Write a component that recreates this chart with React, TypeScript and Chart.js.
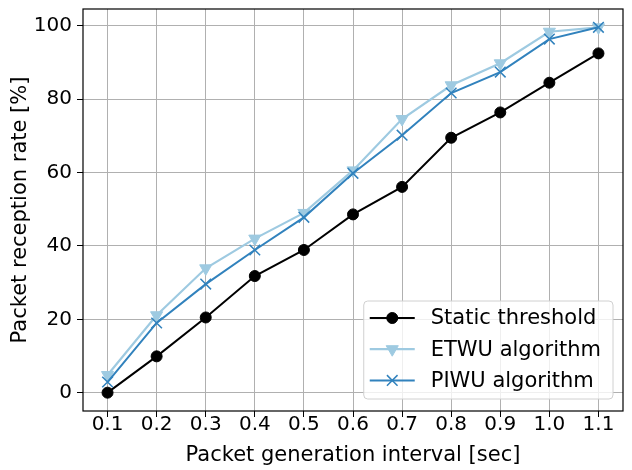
import React, { useEffect, useRef } from 'react';
import { Chart, registerables } from 'chart.js';

Chart.register(...registerables);

const intervals = [0.1, 0.2, 0.3, 0.4, 0.5, 0.6, 0.7, 0.8, 0.9, 1.0, 1.1];
const staticThreshold = [0, 9.9, 20.5, 31.8, 38.9, 48.6, 56.1, 69.5, 76.4, 84.5, 92.5];
const etwuAlgorithm = [4.8, 21.1, 33.9, 42.0, 49.0, 60.6, 74.6, 83.8, 89.8, 98.4, 99.6];
const piwuAlgorithm = [2.9, 19.0, 29.6, 38.9, 47.8, 59.8, 70.2, 81.7, 87.4, 96.4, 99.6];
const xTickValues = [0.1, 0.2, 0.3, 0.4, 0.5, 0.6, 0.7, 0.8, 0.9, 1.0, 1.1];
const yTickValues = [0, 20, 40, 60, 80, 100];
const seriesLabels = ['Static threshold', 'ETWU algorithm', 'PIWU algorithm'];
const xTitle = 'Packet generation interval [sec]';
const yTitle = 'Packet reception rate [%]';

const FONT = '"DejaVu Sans", sans-serif';

function toPoints(values: number[]) {
  return intervals.map((x, i) => ({ x, y: values[i] }));
}

function drawMarker(ctx: CanvasRenderingContext2D, ds: any, x: number, y: number) {
  const style = ds.pointStyle;
  const r = ds.pointRadius;
  ctx.save();
  ctx.fillStyle = ds.pointBackgroundColor;
  ctx.strokeStyle = ds.pointBorderColor;
  ctx.lineWidth = ds.pointBorderWidth;
  ctx.beginPath();
  if (style === 'circle') {
    ctx.arc(x, y, r, 0, Math.PI * 2);
    ctx.fill();
    ctx.stroke();
  } else if (style === 'triangle') {
    const rot = ((ds.pointRotation || 0) * Math.PI) / 180;
    let a = rot;
    ctx.moveTo(x + Math.sin(a) * r, y - Math.cos(a) * r);
    a += (2 * Math.PI) / 3;
    ctx.lineTo(x + Math.sin(a) * r, y - Math.cos(a) * r);
    a += (2 * Math.PI) / 3;
    ctx.lineTo(x + Math.sin(a) * r, y - Math.cos(a) * r);
    ctx.closePath();
    ctx.fill();
    ctx.stroke();
  } else if (style === 'crossRot') {
    const d = r * Math.SQRT1_2;
    ctx.moveTo(x - d, y - d);
    ctx.lineTo(x + d, y + d);
    ctx.moveTo(x - d, y + d);
    ctx.lineTo(x + d, y - d);
    ctx.stroke();
  }
  ctx.restore();
}

const framePlugin = {
  id: 'frame',
  afterDatasetsDraw(chart: any) {
    const { ctx, chartArea } = chart;
    ctx.save();
    ctx.strokeStyle = '#000';
    ctx.lineWidth = 1.2;
    ctx.strokeRect(chartArea.left, chartArea.top, chartArea.right - chartArea.left, chartArea.bottom - chartArea.top);
    ctx.restore();
  },
};

const legendPlugin = {
  id: 'boxLegend',
  afterDraw(chart: any) {
    const { ctx, chartArea } = chart;
    const datasets = chart.data.datasets;
    ctx.save();
    ctx.font = `21px ${FONT}`;
    const maxW = Math.max(...datasets.map((d: any) => ctx.measureText(d.label).width));
    const w = 67 + maxW + 12;
    const h = 98;
    const right = chartArea.right - 10;
    const bottom = chartArea.bottom - 12;
    const left = right - w;
    const top = bottom - h;
    ctx.beginPath();
    const rr = 4;
    ctx.moveTo(left + rr, top);
    ctx.lineTo(right - rr, top);
    ctx.arcTo(right, top, right, top + rr, rr);
    ctx.lineTo(right, bottom - rr);
    ctx.arcTo(right, bottom, right - rr, bottom, rr);
    ctx.lineTo(left + rr, bottom);
    ctx.arcTo(left, bottom, left, bottom - rr, rr);
    ctx.lineTo(left, top + rr);
    ctx.arcTo(left, top, left + rr, top, rr);
    ctx.closePath();
    ctx.fillStyle = 'rgba(255,255,255,0.8)';
    ctx.fill();
    ctx.strokeStyle = '#d0d0d0';
    ctx.lineWidth = 1;
    ctx.stroke();
    datasets.forEach((ds: any, i: number) => {
      const cy = top + 17 + i * 31.2;
      ctx.save();
      ctx.strokeStyle = ds.borderColor;
      ctx.lineWidth = ds.borderWidth;
      ctx.beginPath();
      ctx.moveTo(left + 6, cy);
      ctx.lineTo(left + 51, cy);
      ctx.stroke();
      ctx.restore();
      drawMarker(ctx, ds, left + 28.5, cy);
      ctx.fillStyle = '#000';
      ctx.textBaseline = 'middle';
      ctx.textAlign = 'left';
      ctx.fillText(ds.label, left + 67, cy + 1);
    });
    ctx.restore();
  },
};

export default function App() {
  const canvasRef = useRef<HTMLCanvasElement | null>(null);

  useEffect(() => {
    const canvas = canvasRef.current;
    if (!canvas) return;
    const tickFont = { family: FONT, size: 20 };
    const titleFont = { family: FONT, size: 21 };
    const chart = new Chart(canvas, {
      type: 'line',
      data: {
        datasets: [
          {
            label: seriesLabels[0],
            data: toPoints(staticThreshold),
            borderColor: '#000000',
            backgroundColor: '#000000',
            borderWidth: 2,
            pointStyle: 'circle',
            pointRadius: 5.5,
            pointBackgroundColor: '#000000',
            pointBorderColor: '#000000',
            pointBorderWidth: 1,
            order: 3,
          },
          {
            label: seriesLabels[1],
            data: toPoints(etwuAlgorithm),
            borderColor: '#9ecae1',
            backgroundColor: '#9ecae1',
            borderWidth: 2.2,
            pointStyle: 'triangle',
            pointRotation: 180,
            pointRadius: 7,
            pointBackgroundColor: '#9ecae1',
            pointBorderColor: '#9ecae1',
            pointBorderWidth: 1,
            order: 2,
          },
          {
            label: seriesLabels[2],
            data: toPoints(piwuAlgorithm),
            borderColor: '#3182bd',
            backgroundColor: '#3182bd',
            borderWidth: 2,
            pointStyle: 'crossRot',
            pointRadius: 7.5,
            pointBackgroundColor: '#3182bd',
            pointBorderColor: '#3182bd',
            pointBorderWidth: 1.5,
            order: 1,
          },
        ] as any,
      },
      options: {
        animation: false,
        responsive: false,
        events: [],
        layout: { padding: { top: 9, right: 9, left: 0, bottom: 0 } },
        plugins: {
          legend: { display: false },
          tooltip: { enabled: false },
        },
        elements: { line: { tension: 0 } },
        scales: {
          x: {
            type: 'linear',
            min: 0.05,
            max: 1.15,
            afterBuildTicks: (s: any) => {
              s.ticks = xTickValues.map((v) => ({ value: v }));
            },
            afterFit: (s: any) => {
              s.height = 59;
              s.paddingLeft = 0;
              s.paddingRight = 0;
            },
            ticks: {
              font: tickFont,
              color: '#000',
              padding: -4,
              maxRotation: 0,
              autoSkip: false,
              callback: (v: any) => Number(v).toFixed(1),
            },
            grid: { color: '#b0b0b0', lineWidth: 1, tickColor: '#000', tickLength: 6 },
            border: { display: false },
            title: { display: true, text: xTitle, font: titleFont, color: '#000', padding: { top: 0, bottom: 1.5 } },
          },
          y: {
            type: 'linear',
            min: -5,
            max: 104.6,
            afterBuildTicks: (s: any) => {
              s.ticks = yTickValues.map((v) => ({ value: v }));
            },
            afterFit: (s: any) => {
              s.width = 83;
              s.paddingTop = 0;
              s.paddingBottom = 0;
            },
            ticks: { font: tickFont, color: '#000', padding: 5 },
            grid: { color: '#b0b0b0', lineWidth: 1, tickColor: '#000', tickLength: 6 },
            border: { display: false },
            title: { display: true, text: yTitle, font: titleFont, color: '#000', padding: { top: 8, bottom: 0 } },
          },
        },
      } as any,
      plugins: [framePlugin, legendPlugin],
    });
    return () => chart.destroy();
  }, []);

  return (
    <div style={{ position: 'fixed', left: 0, top: 0, width: 632, height: 470, background: '#fff' }}>
      <canvas ref={canvasRef} width={632} height={470} style={{ width: 632, height: 470, display: 'block' }} />
    </div>
  );
}
